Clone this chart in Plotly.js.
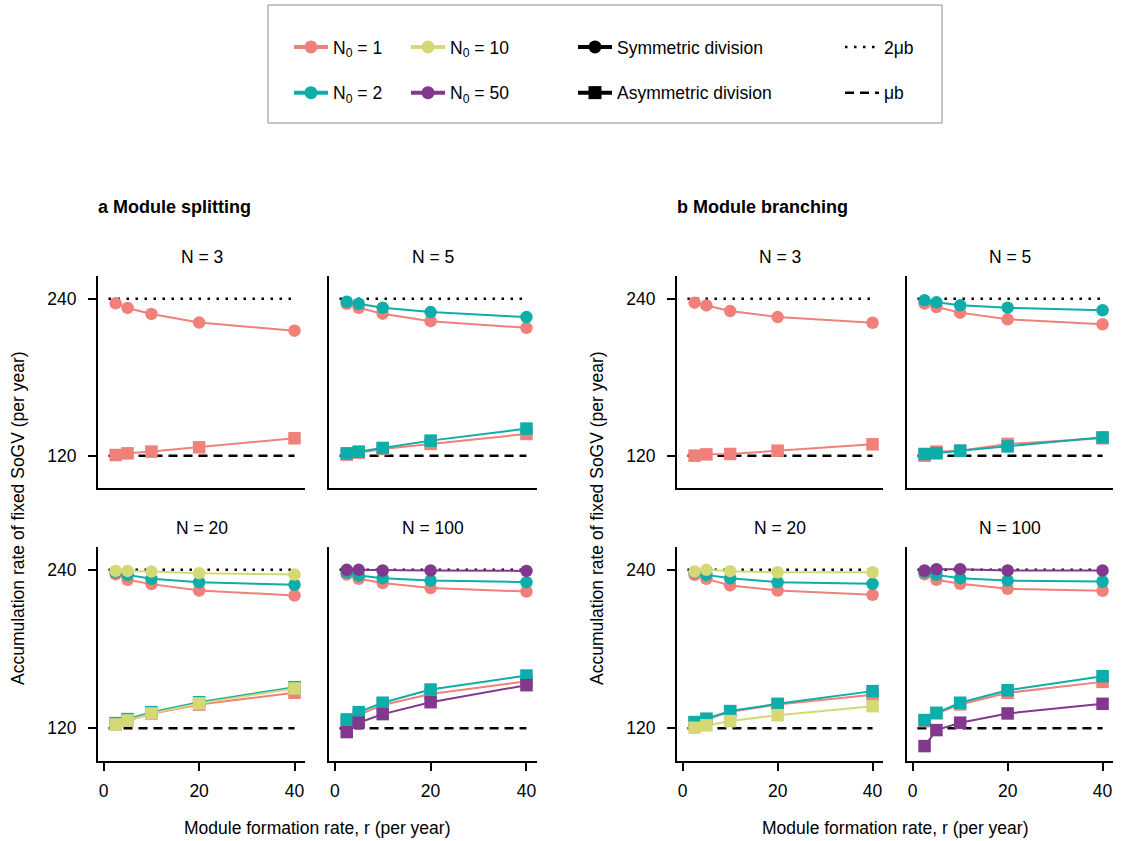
<!DOCTYPE html>
<html>
<head>
<meta charset="utf-8">
<script src="https://cdn.plot.ly/plotly-3.0.1.min.js"></script>
<style>
  html, body { margin: 0; padding: 0; background: #fff; }
  #chart { width: 1121px; height: 841px; }
</style>
</head>
<body>
<div id="chart"></div>
<script>
// Module formation rate r (per year) used in every simulation
const rates = [2.5, 5, 10, 20, 40];
const xTickVals = [0, 20, 40];
const yTickVals = [120, 240];

// Reference levels: 2μb and μb, drawn across the simulated r span
const refSpan = [1, 40];
const twoMuB = [240, 240];
const muB = [120, 120];

// ---- a: module splitting ----
const splitN3SymN01  = [236.4, 232.9, 228.3, 221.7, 215.5];
const splitN3AsymN01 = [120.5, 121.8, 123.1, 126.4, 133.3];

const splitN5SymN01  = [236.1, 233.0, 228.5, 222.8, 217.7];
const splitN5SymN02  = [237.6, 236.1, 233.0, 229.7, 225.9];
const splitN5AsymN01 = [120.8, 122.3, 125.1, 129.0, 136.6];
const splitN5AsymN02 = [121.8, 123.1, 125.9, 131.5, 140.7];

const splitN20SymN01  = [236.7, 232.5, 229.2, 224.4, 220.6];
const splitN20SymN02  = [238.2, 236.2, 233.2, 230.7, 228.7];
const splitN20SymN10  = [239.2, 239.2, 238.7, 237.5, 236.5];
const splitN20AsymN01 = [123.0, 126.0, 131.0, 138.0, 147.0];
const splitN20AsymN02 = [124.0, 127.0, 132.3, 139.8, 151.2];
const splitN20AsymN10 = [123.0, 126.0, 131.3, 138.9, 150.2];

const splitN100SymN01  = [236.5, 233.2, 230.0, 226.2, 223.6];
const splitN100SymN02  = [238.0, 235.7, 233.7, 231.9, 230.7];
const splitN100SymN50  = [240.0, 240.0, 239.5, 239.5, 239.2];
const splitN100AsymN01 = [125.0, 130.2, 137.7, 146.0, 155.7];
const splitN100AsymN02 = [126.8, 132.3, 139.4, 149.4, 160.0];
const splitN100AsymN50 = [117.2, 124.3, 130.8, 139.8, 152.7];

// ---- b: module branching ----
const branchN3SymN01  = [236.9, 234.8, 230.5, 225.9, 221.6];
const branchN3AsymN01 = [120.0, 121.0, 121.3, 123.8, 128.7];

const branchN5SymN01  = [236.2, 233.6, 229.3, 224.2, 220.4];
const branchN5SymN02  = [238.7, 237.2, 234.9, 233.1, 231.1];
const branchN5AsymN01 = [120.0, 123.1, 123.8, 129.0, 133.3];
const branchN5AsymN02 = [121.3, 121.8, 123.8, 127.1, 134.0];

const branchN20SymN01  = [236.2, 233.2, 228.2, 224.4, 221.1];
const branchN20SymN02  = [238.2, 236.2, 233.7, 230.7, 229.4];
const branchN20SymN10  = [238.7, 240.0, 239.0, 238.2, 238.2];
const branchN20AsymN01 = [124.0, 127.0, 132.5, 138.0, 145.5];
const branchN20AsymN02 = [124.8, 127.3, 133.1, 138.6, 148.2];
const branchN20AsymN10 = [120.5, 122.3, 125.5, 130.0, 136.8];

const branchN100SymN01  = [236.7, 232.5, 229.4, 225.7, 224.2];
const branchN100SymN02  = [238.2, 236.2, 233.7, 231.9, 231.2];
const branchN100SymN50  = [239.5, 240.5, 240.5, 239.5, 239.5];
const branchN100AsymN01 = [125.5, 131.3, 138.1, 146.9, 155.2];
const branchN100AsymN02 = [126.3, 131.8, 139.4, 148.9, 159.5];
const branchN100AsymN50 = [106.6, 118.7, 124.3, 131.3, 138.6];

const seedColors = { n1: '#F0807A', n2: '#0DADAA', n10: '#D6D876', n50: '#82388C' };
const seedLabels = { n1: 'N<sub>0</sub> = 1', n2: 'N<sub>0</sub> = 2', n10: 'N<sub>0</sub> = 10', n50: 'N<sub>0</sub> = 50' };

const W = 1121, H = 841;
const FONT = 'Liberation Sans, Arial, Helvetica, sans-serif';
const TXT = 17.5;

// Panel frames in pixels
const colPx = [[98, 305], [329, 537], [677, 883], [907, 1113]];
const rowPx = [[276, 488], [547, 761]];
const xRange = [-1.2, 42.2];
const yRange = [95.3, 257.3];

const panels = [
  { col: 0, row: 0, title: 'N = 3', series: [
      [splitN3SymN01, 'n1', 'circle'], [splitN3AsymN01, 'n1', 'square']] },
  { col: 1, row: 0, title: 'N = 5', series: [
      [splitN5SymN01, 'n1', 'circle'], [splitN5AsymN01, 'n1', 'square'],
      [splitN5SymN02, 'n2', 'circle'], [splitN5AsymN02, 'n2', 'square']] },
  { col: 0, row: 1, title: 'N = 20', series: [
      [splitN20SymN01, 'n1', 'circle'], [splitN20AsymN01, 'n1', 'square'],
      [splitN20SymN02, 'n2', 'circle'], [splitN20AsymN02, 'n2', 'square'],
      [splitN20SymN10, 'n10', 'circle'], [splitN20AsymN10, 'n10', 'square']] },
  { col: 1, row: 1, title: 'N = 100', series: [
      [splitN100SymN01, 'n1', 'circle'], [splitN100AsymN01, 'n1', 'square'],
      [splitN100SymN02, 'n2', 'circle'], [splitN100AsymN02, 'n2', 'square'],
      [splitN100SymN50, 'n50', 'circle'], [splitN100AsymN50, 'n50', 'square']] },
  { col: 2, row: 0, title: 'N = 3', series: [
      [branchN3SymN01, 'n1', 'circle'], [branchN3AsymN01, 'n1', 'square']] },
  { col: 3, row: 0, title: 'N = 5', series: [
      [branchN5SymN01, 'n1', 'circle'], [branchN5AsymN01, 'n1', 'square'],
      [branchN5SymN02, 'n2', 'circle'], [branchN5AsymN02, 'n2', 'square']] },
  { col: 2, row: 1, title: 'N = 20', series: [
      [branchN20SymN01, 'n1', 'circle'], [branchN20AsymN01, 'n1', 'square'],
      [branchN20SymN02, 'n2', 'circle'], [branchN20AsymN02, 'n2', 'square'],
      [branchN20SymN10, 'n10', 'circle'], [branchN20AsymN10, 'n10', 'square']] },
  { col: 3, row: 1, title: 'N = 100', series: [
      [branchN100SymN01, 'n1', 'circle'], [branchN100AsymN01, 'n1', 'square'],
      [branchN100SymN02, 'n2', 'circle'], [branchN100AsymN02, 'n2', 'square'],
      [branchN100SymN50, 'n50', 'circle'], [branchN100AsymN50, 'n50', 'square']] }
];

const DOT = '2.5px,6.5px';
const DASH = '9px,6px';

const traces = [];
const layout = {
  width: W, height: H,
  margin: { l: 0, r: 0, t: 0, b: 0 },
  paper_bgcolor: '#fff', plot_bgcolor: '#fff',
  font: { family: FONT, size: TXT, color: '#000' },
  hovermode: false,
  annotations: [],
  shapes: []
};

const px2x = p => p / W;
const px2y = p => 1 - p / H;

panels.forEach((p, i) => {
  const n = i + 1;
  const xa = n === 1 ? 'x' : 'x' + n;
  const ya = n === 1 ? 'y' : 'y' + n;
  const [l, r] = colPx[p.col];
  const [t, b] = rowPx[p.row];
  const outerX = p.row === 1;
  const outerY = p.col === 0 || p.col === 2;

  layout['xaxis' + (n === 1 ? '' : n)] = {
    domain: [px2x(l), px2x(r)], range: xRange, anchor: ya,
    showline: true, linecolor: '#000', linewidth: 2,
    showgrid: false, zeroline: false, fixedrange: true,
    tickmode: 'array', tickvals: xTickVals,
    ticks: outerX ? 'outside' : '', ticklen: 8, tickwidth: 2, tickcolor: '#000',
    showticklabels: outerX, tickfont: { size: TXT, color: '#000' }, ticklabelstandoff: 5
  };
  layout['yaxis' + (n === 1 ? '' : n)] = {
    domain: [px2y(b), px2y(t)], range: yRange, anchor: xa,
    showline: true, linecolor: '#000', linewidth: 2,
    showgrid: false, zeroline: false, fixedrange: true,
    tickmode: 'array', tickvals: yTickVals,
    ticks: outerY ? 'outside' : '', ticklen: 8, tickwidth: 2, tickcolor: '#000',
    showticklabels: outerY, tickfont: { size: TXT, color: '#000' }, ticklabelstandoff: 8
  };

  // 2μb and μb reference lines sit under the data
  traces.push({ x: refSpan, y: twoMuB, xaxis: xa, yaxis: ya, mode: 'lines', showlegend: false,
    line: { color: '#000', width: 2.5, dash: DOT } });
  traces.push({ x: refSpan, y: muB, xaxis: xa, yaxis: ya, mode: 'lines', showlegend: false,
    line: { color: '#000', width: 2.5, dash: DASH } });

  p.series.forEach(([vals, key, sym]) => {
    traces.push({
      x: rates, y: vals, xaxis: xa, yaxis: ya, mode: 'lines+markers', showlegend: false,
      cliponaxis: false,
      line: { color: seedColors[key], width: 2 },
      marker: { color: seedColors[key], size: 12.5, symbol: sym, line: { width: 0 } }
    });
  });

  layout.annotations.push({
    xref: 'paper', yref: 'paper', x: px2x((l + r) / 2), y: px2y(t - 19),
    xanchor: 'center', yanchor: 'middle', showarrow: false,
    text: p.title, font: { size: TXT, color: '#000' }
  });
});

// Group headings and shared axis titles
[[98, 'a Module splitting'], [677, 'b Module branching']].forEach(([x0, txt]) => {
  layout.annotations.push({
    xref: 'paper', yref: 'paper', x: px2x(x0 - 2), y: px2y(207),
    xanchor: 'left', yanchor: 'middle', showarrow: false,
    text: '<b>' + txt + '</b>', font: { size: 18, color: '#000' }
  });
});
[[18, 317], [597, 895]].forEach(([yx, xc]) => {
  layout.annotations.push({
    xref: 'paper', yref: 'paper', x: px2x(yx), y: px2y(518),
    xanchor: 'center', yanchor: 'middle', showarrow: false, textangle: -90,
    text: 'Accumulation rate of fixed SoGV (per year)', font: { size: TXT, color: '#000' }
  });
  layout.annotations.push({
    xref: 'paper', yref: 'paper', x: px2x(xc), y: px2y(828),
    xanchor: 'center', yanchor: 'middle', showarrow: false,
    text: 'Module formation rate, r (per year)', font: { size: TXT, color: '#000' }
  });
});

// Legend frame
layout.shapes.push({
  type: 'rect', xref: 'paper', yref: 'paper',
  x0: px2x(268), x1: px2x(942), y0: px2y(5), y1: px2y(123),
  line: { color: '#8c8c8c', width: 1 }, fillcolor: 'rgba(0,0,0,0)', layer: 'below'
});

// Four legend columns
const legendBase = {
  yanchor: 'top', xanchor: 'left', y: px2y(29), orientation: 'v',
  bgcolor: 'rgba(0,0,0,0)', borderwidth: 0, traceorder: 'grouped',
  tracegroupgap: 20, valign: 'middle', itemwidth: 34, font: { size: TXT, color: '#000' }
};
layout.legend  = Object.assign({}, legendBase, { x: px2x(289) });
layout.legend2 = Object.assign({}, legendBase, { x: px2x(406) });
layout.legend3 = Object.assign({}, legendBase, { x: px2x(573) });
layout.legend4 = Object.assign({}, legendBase, { x: px2x(840) });

function legendEntry(name, legend, group, line, marker) {
  const tr = {
    x: [null], y: [null], xaxis: 'x', yaxis: 'y', name: name, legend: legend, legendgroup: group,
    mode: 'lines', showlegend: true, line: line
  };
  if (marker) {
    tr.mode = 'lines+markers';
    tr.marker = marker;
  }
  traces.push(tr);
}
legendEntry(seedLabels.n1, 'legend', 'g1', { color: seedColors.n1, width: 4 }, { color: seedColors.n1, size: 13, symbol: 'circle' });
legendEntry(seedLabels.n2, 'legend', 'g2', { color: seedColors.n2, width: 4 }, { color: seedColors.n2, size: 13, symbol: 'circle' });
legendEntry(seedLabels.n10, 'legend2', 'g3', { color: seedColors.n10, width: 4 }, { color: seedColors.n10, size: 13, symbol: 'circle' });
legendEntry(seedLabels.n50, 'legend2', 'g4', { color: seedColors.n50, width: 4 }, { color: seedColors.n50, size: 13, symbol: 'circle' });
legendEntry('Symmetric division', 'legend3', 'g5', { color: '#000', width: 4 }, { color: '#000', size: 13, symbol: 'circle' });
legendEntry('Asymmetric division', 'legend3', 'g6', { color: '#000', width: 4 }, { color: '#000', size: 13, symbol: 'square' });
legendEntry('2μb', 'legend4', 'g7', { color: '#000', width: 2.5, dash: DOT }, null);
legendEntry('μb', 'legend4', 'g8', { color: '#000', width: 2.5, dash: DASH }, null);

Plotly.newPlot('chart', traces, layout, { staticPlot: true, displayModeBar: false });
</script>
</body>
</html>
